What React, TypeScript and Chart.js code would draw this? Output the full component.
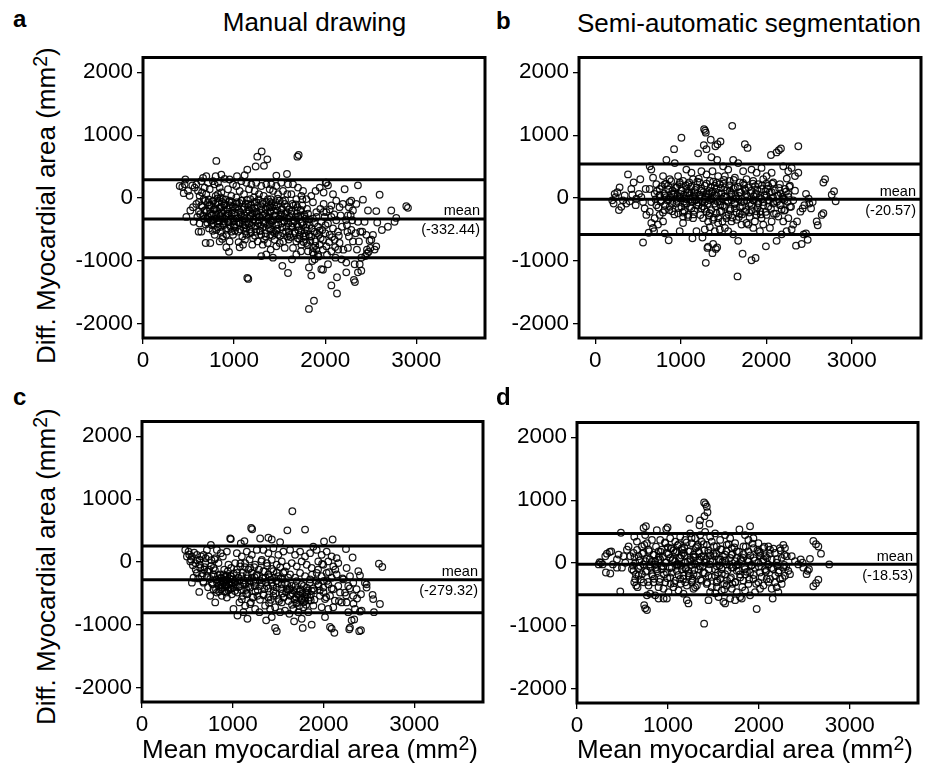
import React, { useEffect, useRef } from 'react';
import { Chart, registerables } from 'chart.js';

Chart.register(...registerables);

const FONT = '"Liberation Sans", Arial, Helvetica, sans-serif';

type Pt = [number, number];

// ---------- text ----------
const panelLetters = ['a', 'b', 'c', 'd'];
const panelTitles = ['Manual drawing', 'Semi-automatic segmentation'];
const yTitleMain = 'Diff. Myocardial area (mm';
const xTitleMain = 'Mean myocardial area (mm';
const titleSup = '2';
const titleClose = ')';
const meanWord = 'mean';

// ---------- axes ----------
const xTicks = [0, 1000, 2000, 3000];
const yTicks = [-2000, -1000, 0, 1000, 2000];
const xMins = [0, -190, 0, 0];
const xMaxs = [3755, 3810, 3758, 3750];
const yMin = -2225;
const yMax = 2235;

// ---------- agreement lines ----------
const meanValues = [-332.44, -20.57, -279.32, -18.53];
const upperLimits = [290, 540, 255, 470];
const lowerLimits = [-950, -578, -807, -505];

// ---------- points (mean, difference) ----------
const pointsA: Pt[] = [
  [403,192],[432,176],[457,218],[465,295],[447,78],[494,114],[512,36],[542,202],[567,166],[586,218],[476,-300],[520,-197],[549,-145],[586,-93],[556,-378],[611,-534],[622,-404],[597,-300],[615,-212],[622,36],[604,114],
  [640,269],[659,321],[695,347],[714,243],[677,166],[648,88],[695,62],[732,140],[666,-16],[714,-67],[640,-119],[677,-197],[732,-171],[659,-275],[703,-326],[751,-275],[688,-420],[725,-482],[768,-404],[640,-534],[688,-715],[739,-715],[787,-585],[768,-41],[787,218],[805,591],[798,347],[768,269],[798,36],[787,-171],[805,-326],[761,-352],[805,-508],
  [823,243],[842,166],[860,88],[878,-16],[823,-67],[849,-145],[886,-197],[834,-249],[871,-316],[915,-275],[842,-378],[889,-430],[933,-378],[856,-534],[915,-585],[842,-689],[915,-782],[944,-855],[951,-689],[970,-534],[951,-119],[970,36],[933,140],[988,218],[951,295],[896,306],[860,373],[980,-197],[988,-326],[999,-456],[900,-93],[853,10],[951,-41],[896,-326],[933,-482],[878,-611],[988,-585],[823,62],[977,-67],
  [1032,347],[1116,363],[1145,450],[1080,269],[1135,243],[1025,192],[1061,114],[1109,62],[1164,140],[1190,218],[1025,10],[1080,-41],[1127,-93],[1178,-16],[1032,-145],[1069,-223],[1116,-275],[1164,-197],[1200,-249],[1025,-326],[1061,-404],[1109,-471],[1153,-378],[1190,-430],[1043,-534],[1091,-611],[1135,-585],[1178,-559],[1061,-782],[1098,-741],[1200,-741],[1145,-1269],[1156,-1285],[1032,-67],[1153,-145],[1091,-352],[1006,-430],[1208,-637],[1127,-534],
  [1237,502],[1255,658],[1303,741],[1328,513],[1365,616],[1244,243],[1299,192],[1354,218],[1391,140],[1226,114],[1273,62],[1325,36],[1372,-16],[1244,-67],[1292,-130],[1343,-171],[1391,-145],[1226,-223],[1273,-300],[1317,-275],[1365,-326],[1237,-378],[1288,-440],[1336,-404],[1383,-482],[1244,-534],[1299,-585],[1347,-611],[1398,-585],[1259,-689],[1314,-741],[1369,-715],[1299,-922],[1354,-896],[1402,-819],[1219,10],[1354,-67],[1255,-249],[1398,-352],
  [1464,357],[1581,383],[1409,218],[1464,192],[1518,243],[1592,218],[1428,114],[1483,62],[1537,114],[1585,62],[1402,-16],[1454,-67],[1501,-41],[1556,-93],[1417,-145],[1475,-197],[1526,-171],[1578,-223],[1439,-275],[1494,-326],[1548,-300],[1409,-378],[1464,-430],[1518,-404],[1574,-456],[1428,-534],[1483,-585],[1537,-559],[1585,-611],[1446,-663],[1501,-715],[1427,-948],[1530,-1078],[1592,-1192],[1556,-793],[1464,-767],[1603,-534],[1398,-223],
  [1709,684],[1695,658],[1647,218],[1702,166],[1757,114],[1629,62],[1684,-16],[1739,36],[1794,-16],[1640,-93],[1695,-145],[1750,-119],[1801,-171],[1629,-249],[1676,-300],[1728,-275],[1783,-326],[1647,-404],[1702,-456],[1757,-430],[1665,-534],[1720,-585],[1775,-559],[1684,-689],[1739,-741],[1794,-715],[1636,-974],[1684,-896],[1735,-845],[1647,-793],[1812,-845],[1750,-20],[1610,-585],
  [1822,-1104],[1822,-1762],[1877,-1632],[1848,-1233],[1885,-974],[1921,-896],[1958,-1130],[1976,-1140],[2031,-1052],[1859,-1000],[1903,-819],[1940,-741],[1976,-663],[1866,-793],[1895,-689],[1932,-585],[1968,-508],[2004,-430],[1848,-611],[1885,-534],[1921,-456],[1958,-378],[1994,-300],[1830,-430],[1866,-326],[1903,-223],[1947,-171],[1983,-93],[1848,36],[1895,114],[1940,166],[1983,88],[2006,243],[1866,-67],[1812,-249],[1822,-585],[1874,-896],
  [2013,243],[2031,202],[2086,62],[2122,-41],[2068,-119],[2158,-145],[2195,-93],[2013,-223],[2068,-300],[2122,-352],[2170,-275],[2031,-404],[2086,-482],[2140,-534],[2184,-456],[2049,-585],[2104,-663],[2158,-715],[2013,-767],[2068,-845],[2113,-948],[2143,-819],[2180,-974],[2130,-1259],[2068,-1389],[2130,-1518],[2214,140],
  [2287,-41],[2360,202],[2261,-145],[2305,-197],[2250,-275],[2298,-352],[2360,-378],[2239,-430],[2287,-508],[2334,-559],[2261,-611],[2305,-689],[2371,-689],[2250,-793],[2232,-1026],[2232,-1181],[2316,-1300],[2327,-1336],[2324,-1052],[2379,-1052],[2360,-1181],[2397,-1155],[2397,-948],[2349,-819],[2386,-534],[2342,-93],[2415,-26],[2269,-67],
  [2433,-378],[2470,-197],[2408,-534],[2459,-819],[2477,-855],[2441,-922],[2459,-880],[2488,-679],[2507,-663],[2561,-767],[2561,-207],[2572,-389],[2623,-508],[2598,52],[2689,-456],[2726,-197],[2762,-378],[2781,-316],[2891,-130],[2909,-155],[2525,-585],[2496,-793],[2543,-819],[2452,-585],
  [712,-298],[745,-362],[780,-255],[818,-410],[853,-288],[892,-372],[924,-246],[958,-331],[1003,-268],[1047,-389],[1085,-301],[1122,-428],[1168,-322],[1205,-391],[1242,-287],[1281,-352],[1318,-463],[1356,-298],[1392,-417],[1436,-341],[1472,-489],[1510,-262],[1553,-378],[1590,-324],[1628,-451],[1665,-365],[1705,-512],[1742,-398],[1786,-472],[1830,-612],
  [730,-111],[772,-48],[811,-202],[865,-140],[905,-21],[941,-250],[1012,-152],[1058,-79],[1101,-180],[1140,-30],[1185,-110],[1230,-160],[1270,-20],[1310,-95],[1350,-190],[1395,-60],[1440,-120],[1480,-8],[1520,-240],[1560,-35],[1605,-180],[1650,-120],[1690,-240],[1735,-190],[1775,-290],
  [765,-520],[820,-470],[870,-650],[1010,-520],[1050,-700],[1120,-660],[1170,-500],[1230,-600],[1280,-520],[1330,-660],[1420,-600],[1460,-520],[1540,-690],[1600,-660],[1700,-640],[1760,-610],[1800,-520],
];

const coreA: Pt[] = [
  [615,-60],[628,-255],[652,-140],[667,-330],[683,-45],[699,-210],[708,-395],[722,-20],[736,-245],[749,-120],[757,-430],[776,-180],[783,-335],[794,-90],[803,-265],[817,-5],[826,-355],[838,-170],[846,-460],[862,-240],[868,-60],[881,-405],[893,-120],[907,-300],[913,-505],[928,-175],[937,-380],[946,-60],[962,-455],[973,-250],[986,-135],[994,-370],[1008,-230],[1017,-470],[1029,-90],[1038,-320],[1052,-190],[1066,-500],[1074,-260],[1088,-40],[1096,-420],[1110,-150],[1118,-330],[1131,-480],[1142,-215],[1156,-95],[1162,-410],[1176,-275],[1187,-540],[1196,-170],[1211,-340],[1222,-60],[1233,-450],[1247,-220],[1259,-120],[1266,-400],[1279,-290],[1291,-520],[1302,-180],[1311,-60],[1324,-380],[1338,-250],[1345,-560],[1359,-140],[1371,-430],[1380,-300],[1394,-210],[1405,-500],[1413,-80],[1425,-360],[1437,-200],[1449,-560],[1458,-280],[1470,-130],[1485,-420],[1492,-330],[1505,-600],[1516,-190],[1529,-470],[1536,-50],[1548,-360],[1561,-250],[1570,-530],[1583,-140],[1597,-400],[1606,-300],[1619,-620],[1631,-200],[1642,-470],[1655,-350],[1668,-560],[1677,-100],[1690,-420],[1702,-300],[1716,-650],[1727,-200],[1738,-520],[1751,-380],[1763,-700],[1772,-260],[1787,-600],[1798,-420],[1810,-750],[1825,-340],[1838,-680],[1852,-480],[1864,-860],[1880,-400],[1892,-760],[1910,-560],[1928,-930],[1950,-640],[1975,-820],[2000,-560],[2020,-900],[2045,-700],[2075,-620],[2110,-780],[2150,-600],[2200,-820],[2245,-540],[1905,-300],[1940,-520],[1985,-220],[2050,-180],[2100,-260],[2230,-350],[2280,-270],
];

const pointsB: Pt[] = [
  [199,-36],[215,-88],[238,15],[258,93],[285,170],[277,-191],[305,-139],[324,-36],[344,41],[383,376],[402,-52],[434,52],[449,247],[480,-10],[512,67],[527,299],[559,-62],[559,-706],[578,-165],[598,-268],[227,67],[363,-88],[422,144],[473,-113],[539,15],[590,144],
  [625,-551],[688,-525],[637,505],[656,453],[676,324],[715,221],[637,144],[695,67],[754,144],[813,221],[871,299],[656,-62],[715,-113],[774,-36],[832,15],[891,67],[637,-216],[695,-319],[754,-268],[813,-191],[871,-139],[656,-397],[734,-422],[793,-371],[859,-670],[813,-561],[832,608],[793,350],[852,196],[754,41],[676,-474],
  [922,778],[1008,959],[930,556],[969,350],[1027,273],[1086,221],[1144,299],[949,170],[1008,118],[1066,144],[1125,93],[1184,170],[930,67],[988,15],[1047,-10],[1105,41],[1164,-36],[949,-88],[1008,-139],[1066,-88],[1125,-165],[1184,-113],[969,-242],[1027,-294],[1086,-268],[1144,-319],[1027,-397],[1137,-639],[1184,-525],[988,-525],[1066,453],[1125,402],[988,221],[1164,93],
  [1203,711],[1273,1097],[1285,1071],[1293,1040],[1270,839],[1301,778],[1351,927],[1406,824],[1430,855],[1465,901],[1359,649],[1426,608],[1242,427],[1301,376],[1371,427],[1437,350],[1222,247],[1281,196],[1340,273],[1398,196],[1457,221],[1242,118],[1301,67],[1359,93],[1418,41],[1476,67],[1222,-10],[1281,-62],[1340,-36],[1398,-88],[1457,-52],[1242,-165],[1301,-216],[1359,-191],[1418,-242],[1476,-206],[1262,-319],[1320,-371],[1379,-345],[1437,-397],[1281,-500],[1340,-463],[1398,-525],[1457,-500],[1320,-772],[1312,-793],[1371,-876],[1410,-809],[1426,-783],[1379,-731],[1293,-1030],[1254,-628],[1488,-371],
  [1602,1148],[1750,855],[1781,798],[1496,505],[1555,453],[1613,608],[1672,556],[1730,427],[1516,350],[1574,273],[1633,324],[1691,247],[1769,299],[1516,170],[1574,118],[1633,170],[1691,93],[1750,144],[1535,15],[1594,-36],[1652,-10],[1711,-62],[1769,-36],[1516,-139],[1574,-191],[1633,-165],[1691,-242],[1750,-216],[1535,-319],[1594,-371],[1652,-345],[1711,-422],[1769,-397],[1555,-525],[1613,-577],[1672,-680],[1723,-886],[1664,-1246],[1789,-422],[1516,-474],
  [1828,-989],[1875,-953],[1996,-767],[2055,685],[2121,726],[2148,762],[2172,788],[1828,453],[1887,402],[1945,479],[2004,350],[2063,402],[1848,273],[1906,221],[1965,299],[2023,196],[2082,247],[1828,118],[1887,67],[1945,144],[2004,41],[2063,93],[1848,-36],[1906,-88],[1965,-62],[2023,-139],[2082,-88],[1828,-191],[1887,-268],[1945,-319],[2004,-268],[2063,-371],[1848,-474],[1926,-525],[2043,-474],[1965,-422],[1867,-371],
  [2375,824],[2199,505],[2258,427],[2297,479],[2336,350],[2375,402],[2160,221],[2219,144],[2277,196],[2336,118],[2141,41],[2199,-10],[2258,67],[2316,-36],[2160,-113],[2219,-191],[2277,-139],[2141,-294],[2199,-371],[2258,-319],[2316,-422],[2180,-577],[2238,-525],[2297,-500],[2121,-680],[2348,-757],[2360,-371],[2399,-216],
  [2414,-731],[2438,-577],[2465,-561],[2485,-664],[2465,67],[2496,-10],[2446,-113],[2504,-88],[2426,-165],[2590,-371],[2602,-433],[2649,-268],[2668,-242],[2668,247],[2688,299],[2766,52],[2793,108],[2812,-52],[2524,-165],[2543,-62],
  [812,42],[858,-25],[903,118],[947,-12],[995,64],[1038,-55],[1079,88],[1118,-20],[1160,45],[1205,-70],[1248,30],[1290,-18],[1333,112],[1377,-5],[1420,150],[1463,-110],[1505,22],[1548,-60],[1590,80],[1635,-95],[1680,35],[1722,-130],[1765,60],[1810,-80],[1855,25],[1900,-150],[1945,-15],[1990,110],[2035,-40],[2080,10],[2125,-60],[2170,75],[2215,-30],[2260,20],
  [900,-210],[960,190],[1040,-210],[1100,250],[1150,-260],[1210,310],[1260,-130],[1330,-280],[1380,260],[1440,-320],[1500,230],[1560,-260],[1620,290],[1680,-300],[1740,210],[1800,-230],[1870,190],[1930,-210],[2000,230],[2090,-250],[2180,-180],[2240,310],
];

const coreB: Pt[] = [
  [705,-20],[722,110],[738,-150],[751,40],[766,-60],[779,190],[792,-230],[806,75],[818,-110],[829,230],[842,-35],[853,140],[866,-190],[879,10],[889,270],[901,-80],[914,60],[926,-260],[939,160],[952,-45],[963,30],[977,-160],[989,250],[998,-5],[1012,120],[1024,-230],[1035,55],[1049,-90],[1061,200],[1072,-20],[1086,-300],[1097,85],[1109,-140],[1121,180],[1133,-60],[1146,20],[1157,-200],[1169,130],[1181,-30],[1194,260],[1206,-120],[1217,50],[1229,-270],[1240,150],[1253,-50],[1266,95],[1277,-170],[1289,15],[1302,230],[1314,-90],[1325,60],[1338,-240],[1350,170],[1362,-20],[1373,110],[1386,-310],[1397,40],[1409,-130],[1421,240],[1433,-60],[1445,80],[1458,-220],[1469,160],[1481,-10],[1494,-120],[1506,290],[1518,30],[1530,-280],[1543,120],[1555,-40],[1567,200],[1580,-170],[1592,60],[1604,-310],[1617,150],[1629,-80],[1641,30],[1654,-230],[1666,180],[1679,-20],[1691,-140],[1704,90],[1716,-260],[1729,240],[1742,-60],[1754,120],[1767,-190],[1779,20],[1792,170],[1805,-300],[1818,80],[1831,-110],[1844,230],[1857,-40],[1870,60],[1883,-210],[1896,130],[1909,-80],[1922,10],[1935,-260],[1950,200],[1965,-120],[1980,40],[1995,-220],[2010,150],[2025,-30],[2040,90],[2055,-170],[2070,230],[2085,-60],[2100,120],[2115,-250],[2130,40],[2150,160],[2170,-110],[2190,20],[2210,-200],[2230,100],[2250,-60],[2270,180],[2290,-140],
];

const pointsC: Pt[] = [
  [477,193],[513,167],[495,89],[550,89],[605,115],[532,10],[587,-16],[634,36],[678,115],[550,-328],[568,-250],[605,-172],[642,-94],[631,-474],[678,-328],[660,-224],[686,-120],[697,-16],[759,271],[715,193],[733,89],
  [752,-537],[807,-641],[788,-432],[770,-328],[818,-276],[862,-198],[906,-120],[953,-42],[788,-94],[843,-16],[891,89],[935,167],[972,375],[979,365],[825,193],[869,141],[807,63],[843,-380],[891,-328],[935,-276],[979,-224],[825,-485],[869,-432],[916,-380],[964,-328],[1001,-276],[880,-537],[928,-485],[972,-432],[898,-198],[946,-146],[983,-94],[1008,-745],[869,-250],[935,-563],[990,-511],[788,-198],
  [1052,-849],[1089,297],[1129,333],[1203,542],[1214,521],[1162,-901],[1302,375],[1045,141],[1100,89],[1155,167],[1210,115],[1265,193],[1027,-16],[1082,-68],[1137,-16],[1192,-94],[1247,-42],[1045,-172],[1100,-224],[1155,-198],[1210,-250],[1265,-198],[1027,-328],[1082,-380],[1137,-354],[1192,-406],[1247,-380],[1052,-485],[1111,-537],[1162,-511],[1221,-563],[1272,-537],[1074,-641],[1137,-693],[1192,-667],[1247,-745],[1294,-797],[1118,-797],[1173,-120],[1229,-302],
  [1393,386],[1430,359],[1522,318],[1368,-927],[1467,-1047],[1485,-1099],[1338,193],[1393,141],[1448,219],[1503,115],[1558,167],[1320,36],[1375,-16],[1430,36],[1485,-42],[1540,10],[1595,-68],[1338,-146],[1393,-198],[1448,-146],[1503,-224],[1558,-172],[1320,-328],[1375,-380],[1430,-328],[1485,-406],[1540,-354],[1595,-432],[1338,-511],[1393,-563],[1448,-537],[1503,-589],[1558,-563],[1357,-693],[1412,-745],[1467,-719],[1522,-797],[1576,-771],[1430,-875],[1602,505],[1540,-641],
  [1657,808],[1797,516],[1676,-943],[1771,-1047],[1870,-995],[1632,193],[1687,115],[1742,167],[1797,89],[1852,141],[1888,245],[1650,-16],[1705,-68],[1760,10],[1815,-42],[1870,-94],[1632,-198],[1687,-250],[1742,-172],[1797,-224],[1852,-276],[1650,-380],[1705,-432],[1760,-354],[1815,-406],[1870,-458],[1632,-537],[1687,-589],[1742,-537],[1797,-615],[1852,-563],[1668,-745],[1723,-797],[1778,-719],[1833,-797],[1888,-693],[1624,-823],[1760,-901],[1705,-302],[1815,-485],
  [2006,328],[2101,359],[2017,-875],[2072,-1032],[2090,-1058],[2120,-1125],[1925,193],[1980,115],[2035,167],[2090,89],[2145,63],[1943,10],[1998,-42],[2053,10],[2108,-68],[2163,-16],[1925,-172],[1980,-224],[2035,-172],[2090,-250],[2145,-198],[1943,-354],[1998,-406],[2053,-354],[2108,-432],[2163,-380],[1961,-537],[2017,-589],[2072,-537],[2126,-615],[2182,-485],[1980,-719],[2053,-745],[2108,-719],[2200,-641],[2218,-276],
  [2248,208],[2321,73],[2255,-641],[2273,-797],[2292,-1042],[2284,-1068],[2310,-927],[2339,-912],[2384,-146],[2402,-214],[2475,-354],[2475,-406],[2413,-511],[2541,-521],[2420,-771],[2402,-787],[2413,-1084],[2394,-1099],[2556,-797],[2622,-667],[2611,-26],[2648,-78],[2273,-380],[2328,-328],[2328,-537],[2365,-432],[2347,-745],[2292,-224],[2237,-485],[2255,-94],[2457,-328],[2548,-589],
  [905,-300],[925,-355],[948,-410],[968,-265],[985,-340],[1005,-395],[880,-362],[860,-310],[940,-215],[1020,-300],[1060,-250],[1120,-290],[1180,-330],[1240,-240],[1300,-290],[1360,-250],[1420,-280],[1480,-300],[1530,-260],[1575,-330],[1620,-440],[1660,-500],[1700,-560],[1740,-470],[1780,-640],[1820,-520],[1860,-610],[1900,-450],[1945,-380],[2000,-480],[2040,-300],[1700,-660],[1760,-580],
  [720,-150],[760,-60],[800,40],[1150,-440],[1250,-470],[1350,-430],[1450,-460],[1550,-500],[1610,-250],[1100,-590],[1200,-640],[1300,-600],[1400,-650],
];

const coreC: Pt[] = [
  [520,120],[540,40],[560,-50],[575,150],[592,-120],[608,30],[620,-260],[638,-40],[652,90],[664,-180],[676,-310],[690,-80],[702,60],[715,-230],[728,-400],[740,-120],[752,-270],[765,30],[778,-350],[790,-230],[803,-130],[815,-440],[826,-320],[838,-210],[850,-470],[862,-360],[874,-260],[886,-410],[897,-300],[909,-470],[920,-230],[931,-380],[942,-290],[953,-450],[965,-350],[976,-220],[988,-420],[999,-330],[1011,-180],[1023,-460],[1035,-360],[1047,-120],[1060,-400],[1072,-290],[1085,-20],[1098,-450],[1110,-170],[1123,-330],[1135,-80],[1148,-500],[1160,-260],[1173,-390],[1186,40],[1198,-300],[1211,-170],[1224,-560],[1237,-80],[1250,-330],[1263,-220],[1276,-450],[1289,-120],[1302,-380],[1315,10],[1328,-260],[1341,-530],[1354,-150],[1367,-320],[1380,-60],[1393,-420],[1406,-240],[1419,-600],[1432,-110],[1445,-380],[1458,-250],[1471,-500],[1484,-170],[1497,-340],[1510,-620],[1523,-80],[1536,-430],[1549,-270],[1562,-560],[1575,-150],[1588,-480],[1601,-360],[1614,-620],[1627,-420],[1640,-520],[1653,-680],[1666,-450],[1679,-590],[1692,-380],[1705,-640],[1718,-520],[1731,-700],[1744,-430],[1757,-600],[1770,-500],[1783,-380],[1796,-560],[1809,-680],[1822,-450],[1835,-610],[1848,-330],[1861,-520],[1874,-200],[1887,-420],[1900,-600],[1920,-300],[1940,-120],[1960,-450],[1985,-30],[2005,-300],[2030,-560],[2060,-160],[2090,-420],[2130,-120],[2170,-620],[2210,-260],[2250,-530],[2290,-420],[2330,-660],[2370,-580],
];

const pointsD: Pt[] = [
  [249,16],[264,5],[282,-21],[238,-21],[318,-150],[366,-166],[329,150],[359,176],[377,186],[311,109],[395,-21],[439,57],[457,135],[483,482],[476,-451],[494,-73],[531,5],[549,212],[567,264],[586,109],[604,-98],[512,109],[439,-73],
  [630,-306],[651,-357],[666,-383],[641,-254],[677,-202],[739,-668],[750,-720],[769,-746],[758,585],[732,559],[630,420],[659,342],[714,264],[769,316],[824,368],[878,523],[622,161],[677,109],[732,161],[787,212],[842,135],[897,186],[641,5],[695,-47],[750,31],[805,-21],[860,31],[622,-124],[714,-176],[769,-124],[824,-176],[878,-98],[732,-306],[787,-357],[842,-306],[897,-383],[805,-487],[860,-513],[897,-565],[769,-513],[860,-73],[750,445],
  [996,565],[981,539],[1237,705],[915,368],[970,316],[1025,394],[1080,342],[1135,420],[1190,368],[933,212],[988,161],[1043,238],[1098,186],[1153,238],[915,57],[970,5],[1025,83],[1080,31],[1135,83],[1190,5],[933,-98],[988,-150],[1043,-73],[1098,-124],[1153,-98],[915,-254],[970,-306],[1025,-228],[1080,-280],[1135,-254],[1190,-306],[952,-409],[1006,-461],[1061,-383],[1116,-435],[1171,-487],[988,-565],[1208,-590],[1226,-642],[952,-565],[1171,161],[1116,-21],
  [1398,964],[1413,938],[1427,896],[1435,808],[1402,746],[1354,679],[1457,627],[1347,601],[1398,-964],[1244,471],[1299,394],[1354,445],[1409,497],[1464,420],[1262,316],[1318,264],[1372,342],[1427,290],[1482,342],[1226,186],[1281,135],[1336,186],[1391,109],[1446,161],[1244,31],[1299,-21],[1354,57],[1409,5],[1464,31],[1226,-124],[1281,-176],[1336,-98],[1391,-150],[1446,-202],[1262,-306],[1318,-357],[1372,-280],[1427,-332],[1482,-383],[1299,-383],[1464,-461],[1446,-590],[1208,-357],[1281,-409],
  [1786,534],[1519,471],[1574,368],[1629,445],[1684,394],[1739,316],[1537,264],[1592,212],[1647,290],[1702,238],[1757,186],[1519,109],[1574,57],[1629,135],[1684,83],[1739,31],[1537,-47],[1592,-98],[1647,-21],[1702,-73],[1757,-124],[1519,-202],[1574,-254],[1629,-176],[1684,-254],[1739,-306],[1794,-228],[1537,-383],[1592,-435],[1647,-357],[1702,-409],[1757,-461],[1556,-539],[1610,-616],[1629,-642],[1684,-565],[1739,-590],[1794,-539],[1537,-306],
  [1903,585],[1976,-731],[1848,445],[1885,368],[1940,394],[1995,316],[2050,238],[2104,264],[1830,264],[1885,186],[1940,238],[2013,161],[2068,109],[1830,83],[1885,31],[1940,83],[1995,5],[2050,57],[1848,-98],[1903,-150],[1958,-73],[2013,-150],[2068,-98],[1830,-280],[1885,-332],[1940,-254],[1995,-306],[2050,-357],[1848,-435],[1903,-513],[1958,-461],[2013,-409],[2086,-254],[2104,-21],[1812,-565],
  [2123,212],[2177,161],[2232,238],[2269,290],[2287,238],[2141,57],[2196,5],[2251,83],[2306,109],[2159,-98],[2214,-150],[2269,-73],[2324,-124],[2123,-254],[2177,-306],[2232,-254],[2287,-202],[2342,-176],[2141,-409],[2196,-383],[2251,-332],[2152,-565],[2361,109],[2397,31],[2214,-461],
  [2460,57],[2481,5],[2562,67],[2536,-124],[2551,-98],[2525,-176],[2599,352],[2628,300],[2654,264],[2683,150],[2654,-264],[2628,-321],[2599,-368],[2774,-21],[2434,-21],[2489,-73],
  [1050,40],[1100,-40],[1150,120],[1200,-80],[1250,60],[1180,250],[1230,-200],[1120,300],[1300,100],[1350,-50],[1400,200],[1450,-100],[1500,150],[1550,-150],[1600,20],[1650,-280],[1700,130],[1750,-40],[1800,60],[1850,-180],[900,100],[950,-50],[1000,250],[850,-250],[800,60],[1030,-330],[1170,-200],[1270,-250],[1330,290],[1520,-480],[1620,-420],[1710,-330],[1780,-120],[1920,-30],[2000,180],[2080,-120],[2200,-40],[2280,-30],[1060,200],[1260,400],[1140,-330],
];

const coreD: Pt[] = [
  [615,-40],[632,90],[648,-180],[661,210],[673,-80],[688,40],[702,-260],[716,150],[729,-20],[741,290],[755,-140],[768,70],[781,-300],[794,190],[806,-60],[819,20],[832,-210],[845,130],[857,-20],[869,260],[882,-130],[894,50],[907,-300],[919,180],[931,-50],[944,100],[956,-180],[968,330],[981,10],[993,-240],[1006,140],[1018,-80],[1031,230],[1043,-150],[1056,60],[1068,-320],[1081,170],[1093,-20],[1106,280],[1118,-190],[1131,80],[1143,-40],[1156,210],[1168,-250],[1181,120],[1193,-90],[1206,330],[1218,20],[1231,-160],[1243,190],[1256,-30],[1268,-280],[1281,90],[1293,-110],[1306,240],[1318,-200],[1331,40],[1343,160],[1356,-260],[1368,100],[1381,-50],[1393,300],[1406,-160],[1418,60],[1431,-310],[1443,200],[1456,-20],[1468,120],[1481,-220],[1493,30],[1506,270],[1518,-100],[1531,150],[1543,-280],[1556,60],[1568,-40],[1581,220],[1593,-170],[1606,100],[1618,-330],[1631,40],[1643,190],[1656,-120],[1668,300],[1681,-30],[1693,-230],[1706,140],[1718,-70],[1731,250],[1743,-300],[1756,80],[1768,-20],[1781,180],[1793,-180],[1806,30],[1818,-380],[1831,140],[1843,-60],[1856,260],[1868,-140],[1881,60],[1893,-260],[1906,120],[1918,-40],[1931,310],[1943,-190],[1956,40],[1970,-330],[1985,200],[2000,-60],[2015,120],[2030,-220],[2045,30],[2060,260],[2075,-140],[2090,80],[2105,-300],[2120,150],[2140,-80],[2160,230],[2180,-200],[2200,60],[2220,-120],[2240,200],[2260,-240],[2280,130],[2300,-60],
];

const panelPoints: Pt[][] = [
  [...pointsA, ...coreA],
  [...pointsB, ...coreB],
  [...pointsC, ...coreC],
  [...pointsD, ...coreD],
];

// ---------- layout (pixel positions of each plot area) ----------
const AREAS = [
  { l: 143, t: 52, r: 485, b: 338 },
  { l: 579, t: 52, r: 921, b: 338 },
  { l: 142, t: 416, r: 483, b: 702 },
  { l: 577, t: 417, r: 918, b: 703 },
];
const Y_AXIS_W = 80;
const X_AXIS_H = 45;
const PAD = 12;

const boxPlugin = {
  id: 'frameBox',
  afterDatasetsDraw(chart: any) {
    const { ctx, chartArea: a } = chart;
    ctx.save();
    ctx.lineWidth = 3;
    ctx.strokeStyle = '#000';
    ctx.strokeRect(a.left, a.top, a.right - a.left, a.bottom - a.top);
    ctx.restore();
  },
};

const meanLabelPlugin = {
  id: 'meanLabel',
  afterDatasetsDraw(chart: any, _args: any, opts: any) {
    const { ctx, chartArea, scales } = chart;
    const y = scales.y.getPixelForValue(opts.value);
    ctx.save();
    ctx.fillStyle = '#000';
    ctx.font = `14.5px ${FONT}`;
    ctx.textAlign = 'right';
    ctx.textBaseline = 'alphabetic';
    ctx.fillText(meanWord, chartArea.right - 5, y - 3.5);
    ctx.fillText(opts.label, chartArea.right - 5, y + 15.5);
    ctx.restore();
  },
};

function Panel({ idx }: { idx: number }) {
  const ref = useRef<HTMLCanvasElement>(null);
  const a = AREAS[idx];
  const left = a.l - Y_AXIS_W;
  const top = a.t - PAD;
  const width = a.r - a.l + Y_AXIS_W + PAD;
  const height = a.b - a.t + PAD + X_AXIS_H;

  useEffect(() => {
    const canvas = ref.current;
    if (!canvas) return;
    const lineVals = [upperLimits[idx], meanValues[idx], lowerLimits[idx]];
    const tickFont = { family: FONT, size: 22.5 };
    const chart = new Chart(canvas, {
      type: 'scatter',
      data: {
        datasets: [
          ...lineVals.map((v) => ({
            data: [
              { x: xMins[idx], y: v },
              { x: xMaxs[idx], y: v },
            ],
            showLine: true,
            borderColor: '#000',
            borderWidth: 3,
            pointRadius: 0,
            pointHoverRadius: 0,
            fill: false,
            order: 0,
          })),
          {
            data: panelPoints[idx].map(([x, y]) => ({ x, y })),
            pointStyle: 'circle',
            pointRadius: 3.3,
            pointHoverRadius: 3.3,
            borderWidth: 1.25,
            borderColor: 'rgba(0,0,0,0.9)',
            backgroundColor: 'rgba(0,0,0,0)',
            order: 1,
          },
        ],
      } as any,
      options: {
        responsive: false,
        animation: false,
        devicePixelRatio: 1,
        events: [],
        layout: { padding: { top: PAD, right: PAD, left: 0, bottom: 0 } },
        plugins: {
          legend: { display: false },
          tooltip: { enabled: false },
          title: { display: false },
          meanLabel: { value: meanValues[idx], label: `(${meanValues[idx].toFixed(2)})` },
        } as any,
        scales: {
          x: {
            type: 'linear',
            position: 'bottom',
            min: xMins[idx],
            max: xMaxs[idx],
            afterBuildTicks: (s: any) => {
              s.ticks = xTicks.map((v) => ({ value: v }));
            },
            afterFit: (s: any) => {
              s.height = X_AXIS_H;
            },
            ticks: {
              color: '#000',
              font: tickFont,
              padding: 3,
              autoSkip: false,
              maxRotation: 0,
              callback: (v: any) => String(v),
            },
            grid: { drawOnChartArea: false, drawTicks: true, tickLength: 6, color: '#000', lineWidth: 1.3 },
            border: { display: false },
          },
          y: {
            type: 'linear',
            position: 'left',
            min: yMin,
            max: yMax,
            afterBuildTicks: (s: any) => {
              s.ticks = yTicks.map((v) => ({ value: v }));
            },
            afterFit: (s: any) => {
              s.width = Y_AXIS_W;
            },
            ticks: {
              color: '#000',
              font: tickFont,
              padding: 4,
              autoSkip: false,
              callback: (v: any) => String(v),
            },
            grid: { drawOnChartArea: false, drawTicks: true, tickLength: 6, color: '#000', lineWidth: 1.3 },
            border: { display: false },
          },
        },
      } as any,
      plugins: [boxPlugin, meanLabelPlugin],
    });
    return () => chart.destroy();
  }, [idx]);

  return (
    <canvas
      ref={ref}
      width={width}
      height={height}
      style={{ position: 'absolute', left, top, width, height }}
    />
  );
}

const baseText: React.CSSProperties = {
  position: 'absolute',
  fontFamily: FONT,
  color: '#000',
  lineHeight: '1',
  whiteSpace: 'nowrap',
};

const Sup = () => (
  <span style={{ fontSize: 19.5, position: 'relative', top: -8 }}>{titleSup}</span>
);

export default function App() {
  const letterPos = [
    { left: 13, top: 6.7 },
    { left: 496, top: 8.7 },
    { left: 13, top: 384.7 },
    { left: 496, top: 384.7 },
  ];
  const titlePos = [
    { cx: 314.5, top: 9 },
    { cx: 749, top: 10 },
  ];
  const yTitlePos = [
    { left: 33, top: 364 },
    { left: 33, top: 725 },
  ];
  const xTitlePos = [
    { cx: 310, top: 736 },
    { cx: 745, top: 736 },
  ];

  return (
    <div
      style={{
        position: 'absolute',
        left: 0,
        top: 0,
        width: 934,
        height: 769,
        background: '#fff',
        overflow: 'hidden',
      }}
    >
      {[0, 1, 2, 3].map((i) => (
        <Panel key={i} idx={i} />
      ))}
      {panelLetters.map((t, i) => (
        <div key={'l' + t} style={{ ...baseText, fontSize: 24, fontWeight: 'bold', ...letterPos[i] }}>
          {t}
        </div>
      ))}
      {panelTitles.map((t, i) => (
        <div
          key={'t' + i}
          style={{ ...baseText, fontSize: 26, left: titlePos[i].cx, top: titlePos[i].top, transform: 'translateX(-50%)' }}
        >
          {t}
        </div>
      ))}
      {yTitlePos.map((p, i) => (
        <div
          key={'y' + i}
          style={{
            ...baseText,
            fontSize: 26,
            left: p.left,
            top: p.top,
            transformOrigin: '0 0',
            transform: 'rotate(-90deg)',
          }}
        >
          {yTitleMain}
          <Sup />
          {titleClose}
        </div>
      ))}
      {xTitlePos.map((p, i) => (
        <div
          key={'x' + i}
          style={{ ...baseText, fontSize: 26, left: p.cx, top: p.top, transform: 'translateX(-50%)' }}
        >
          {xTitleMain}
          <Sup />
          {titleClose}
        </div>
      ))}
    </div>
  );
}
